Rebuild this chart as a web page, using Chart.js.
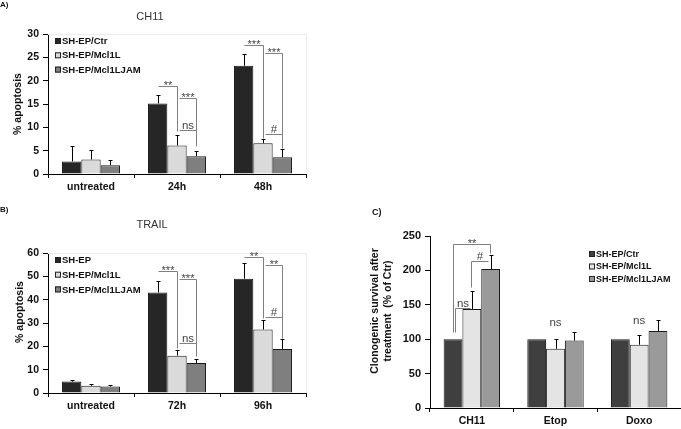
<!DOCTYPE html>
<html>
<head>
<meta charset="utf-8">
<script src="https://cdn.jsdelivr.net/npm/chart.js@4.4.1/dist/chart.umd.min.js"></script>
<style>
  body { margin: 0; background: #fff; }
  #wrap { position: relative; width: 681px; height: 429px; overflow: hidden; }
  canvas { position: absolute; }
</style>
</head>
<body>
<div id="wrap">
  <canvas id="chartA" width="330" height="200" style="left:0;top:0"></canvas>
  <canvas id="chartB" width="330" height="229" style="left:0;top:200px"></canvas>
  <canvas id="chartC" width="351" height="269" style="left:330px;top:160px"></canvas>
</div>
<script>
// --- datos ---
const labelsA = ['untreated', '24h', '48h'];
const ctrA = [2.7, 15.1, 23.2];
const ctrErrA = [3.2, 1.9, 2.6];
const mclA = [3.1, 6.1, 6.6];
const mclErrA = [2.1, 2.3, 1.0];
const jamA = [1.9, 3.8, 3.6];
const jamErrA = [1.2, 1.2, 1.7];

const labelsB = ['untreated', '72h', '96h'];
const ctrB = [4.9, 43.1, 49.0];
const ctrErrB = [0.5, 4.7, 6.7];
const mclB = [3.1, 16.0, 27.2];
const mclErrB = [0.9, 2.6, 4.0];
const jamB = [2.8, 12.9, 18.9];
const jamErrB = [0.8, 1.7, 4.4];

const labelsC = ['CH11', 'Etop', 'Doxo'];
const ctrC = [100, 100, 100];
const ctrErrC = [0, 0, 0];
const mclC = [144, 86, 92];
const mclErrC = [26, 14, 14];
const jamC = [202, 98, 112];
const jamErrC = [21, 13, 16];

const seriesA = ['SH-EP/Ctr', 'SH-EP/Mcl1L', 'SH-EP/Mcl1LJAM'];
const seriesB = ['SH-EP', 'SH-EP/Mcl1L', 'SH-EP/Mcl1LJAM'];

// brackets: puntos [serie, desplazamiento, valor] por categoría
const bracketsA = [
  { cat: 1, text: '**', pts: [[0, 0, 18.9], [1, 0, 18.9], [1, 0, 9.3]] },
  { cat: 1, text: '***', pts: [[1, 0.1, 16.2], [2, 0, 16.2], [2, 0, 6.1]] },
  { cat: 1, text: 'ns', pts: [[1, 0.1, 9.4], [2, 0, 9.4]] },
  { cat: 2, text: '***', pts: [[0, 0, 27.6], [1, 0, 27.6], [1, 0, 7.8]] },
  { cat: 2, text: '***', pts: [[1, 0.12, 25.9], [2, 0, 25.9], [2, 0, 5.5]] },
  { cat: 2, text: '#', pts: [[1, 0.12, 8.6], [2, 0, 8.6]] }
];
const bracketsB = [
  { cat: 1, text: '***', pts: [[0, 0, 52.2], [1, 0, 52.2], [1, 0, 19.1]] },
  { cat: 1, text: '***', pts: [[1, 0.1, 48.8], [2, 0, 48.8], [2, 0, 16]] },
  { cat: 1, text: 'ns', pts: [[1, 0.1, 21.4], [2, 0, 21.4]] },
  { cat: 2, text: '**', pts: [[0, 0, 58.3], [1, 0, 58.3], [1, 0, 32]] },
  { cat: 2, text: '**', pts: [[1, 0.1, 55], [2, 0, 55], [2, 0, 23.4]] },
  { cat: 2, text: '#', pts: [[1, 0.1, 32.4], [2, 0, 32.4]] }
];
const bracketsC = [
  { cat: 0, text: '**', pts: [[0, 0, 111], [0, 0, 238.5], [2, -0.05, 238.5], [2, -0.05, 226]] },
  { cat: 0, text: 'ns', pts: [[0, 0.13, 111], [0, 0.13, 145], [1, -0.1, 145]] },
  { cat: 0, text: '#', pts: [[1, -0.04, 176.5], [1, -0.04, 213], [2, -0.15, 213]] }
];
const notesC = [
  { cat: 1, value: 124, text: 'ns' },
  { cat: 2, value: 127, text: 'ns' }
];

const FONT = "'Liberation Sans', Arial, Helvetica, sans-serif";
Chart.defaults.font.family = FONT;

/**
 * Overlay: barras de error, brackets de significancia, leyenda y títulos
 */
function overlayPlugin(extra) {
  return {
    id: 'overlay',
    afterDatasetsDraw(chart) {
      const ctx = chart.ctx;
      const y = chart.scales.y;
      const area = chart.chartArea;
      ctx.save();

      // borde tenue del área
      if (extra.frame) {
        ctx.strokeStyle = '#ececec';
        ctx.lineWidth = 1;
        ctx.beginPath();
        ctx.moveTo(area.left, Math.round(area.top) + 0.5);
        ctx.lineTo(Math.round(area.right) + 0.5, Math.round(area.top) + 0.5);
        ctx.lineTo(Math.round(area.right) + 0.5, area.bottom);
        ctx.stroke();
      }

      // barras de error (solo hacia arriba)
      ctx.strokeStyle = '#000';
      ctx.lineWidth = 1;
      chart.data.datasets.forEach((ds, di) => {
        chart.getDatasetMeta(di).data.forEach((bar, i) => {
          const e = ds.errors[i];
          if (!e) return;
          const x = Math.round(bar.x) + 0.5;
          const yt = Math.round(y.getPixelForValue(ds.data[i] + e)) + 0.5;
          ctx.beginPath();
          ctx.moveTo(x, bar.y);
          ctx.lineTo(x, yt);
          ctx.moveTo(x - 2, yt);
          ctx.lineTo(x + 2, yt);
          ctx.stroke();
        });
      });

      // brackets
      const toPx = (cat, p) => {
        const bar = chart.getDatasetMeta(p[0]).data[cat];
        return [Math.round(bar.x + p[1] * bar.width) + 0.5, Math.round(y.getPixelForValue(p[2])) + 0.5];
      };
      (extra.brackets || []).forEach(b => {
        const pts = b.pts.map(p => toPx(b.cat, p));
        ctx.strokeStyle = '#808080';
        ctx.beginPath();
        pts.forEach((p, k) => k ? ctx.lineTo(p[0], p[1]) : ctx.moveTo(p[0], p[1]));
        ctx.stroke();
        // texto centrado en el primer tramo horizontal
        let seg = 0;
        for (let k = 0; k < pts.length - 1; k++) {
          if (pts[k][1] === pts[k + 1][1]) { seg = k; break; }
        }
        const cx = (pts[seg][0] + pts[seg + 1][0]) / 2;
        const ly = pts[seg][1];
        ctx.fillStyle = '#444';
        ctx.textAlign = 'center';
        ctx.textBaseline = 'alphabetic';
        if (b.text.startsWith('*')) {
          ctx.font = `11px ${FONT}`;
          ctx.fillText(b.text, cx, ly + 2.5);
        } else {
          ctx.font = `11.5px ${FONT}`;
          ctx.fillText(b.text, cx, ly - 2);
        }
      });

      (extra.notes || []).forEach(n => {
        const bar = chart.getDatasetMeta(1).data[n.cat];
        ctx.fillStyle = '#444';
        ctx.font = `11.5px ${FONT}`;
        ctx.textAlign = 'center';
        ctx.textBaseline = 'middle';
        ctx.fillText(n.text, bar.x, y.getPixelForValue(n.value));
      });
      ctx.restore();
    },
    afterDraw(chart) {
      const ctx = chart.ctx;
      ctx.save();

      // leyenda dentro del área
      const lg = extra.legend;
      ctx.font = `bold ${lg.size}px ${FONT}`;
      ctx.textBaseline = 'middle';
      ctx.textAlign = 'left';
      chart.data.datasets.forEach((ds, di) => {
        const ry = lg.y + di * lg.gap;
        ctx.fillStyle = ds.backgroundColor;
        ctx.fillRect(lg.x, ry - 3, 6, 6);
        ctx.strokeStyle = '#222';
        ctx.lineWidth = 1;
        ctx.strokeRect(lg.x + 0.5, ry - 2.5, 5, 5);
        ctx.fillStyle = '#111';
        ctx.fillText(ds.label, lg.x + 7, ry + 0.5);
      });

      // título del panel
      if (extra.title) {
        ctx.font = `11px ${FONT}`;
        ctx.fillStyle = '#333';
        ctx.textAlign = 'center';
        ctx.fillText(extra.title.text, extra.title.x, extra.title.y);
      }

      // letra del panel
      ctx.font = `bold ${extra.letter.size}px ${FONT}`;
      ctx.fillStyle = '#111';
      ctx.textAlign = 'left';
      ctx.fillText(extra.letter.text, extra.letter.x, extra.letter.y);

      // título del eje y (rotado)
      const yt = extra.yTitle;
      ctx.font = `bold ${yt.size}px ${FONT}`;
      ctx.fillStyle = '#111';
      ctx.textAlign = 'center';
      ctx.textBaseline = 'middle';
      yt.lines.forEach((line, k) => {
        ctx.save();
        ctx.translate(yt.x + k * yt.gap, yt.y);
        ctx.rotate(-Math.PI / 2);
        ctx.fillText(line, 0, 0);
        ctx.restore();
      });
      ctx.restore();
    }
  };
}

function crearPanel(id, cfg) {
  const colors = cfg.colors;
  return new Chart(document.getElementById(id), {
    type: 'bar',
    data: {
      labels: cfg.labels,
      datasets: cfg.series.map((s, i) => ({
        label: cfg.names[i],
        data: s,
        errors: cfg.errors[i],
        backgroundColor: colors[i],
        borderColor: '#1a1a1a',
        borderWidth: 1,
        categoryPercentage: 0.674,
        barPercentage: 1.0
      }))
    },
    options: {
      responsive: false,
      animation: false,
      devicePixelRatio: 1,
      layout: { padding: cfg.padding },
      plugins: { legend: { display: false }, tooltip: { enabled: false } },
      scales: {
        x: {
          grid: { drawOnChartArea: false, tickLength: 4, color: '#000', offset: true },
          border: { color: '#000' },
          ticks: { font: { weight: 'bold', size: 10.5 }, color: '#111', padding: 3, maxRotation: 0 },
          afterFit: s => { s.height = cfg.xHeight; }
        },
        y: {
          min: 0, max: cfg.max,
          grid: { drawOnChartArea: false, tickLength: 5, color: '#000' },
          border: { color: '#000' },
          ticks: { stepSize: cfg.step, font: { weight: 'bold', size: cfg.tickSize }, color: '#111', padding: 4 },
          afterFit: s => { s.width = cfg.yWidth; }
        }
      }
    },
    plugins: [overlayPlugin(cfg.extra)]
  });
}

crearPanel('chartA', {
  labels: labelsA,
  names: seriesA,
  series: [ctrA, mclA, jamA],
  errors: [ctrErrA, mclErrA, jamErrA],
  colors: ['#262626', '#dadada', '#7f7f7f'],
  max: 30, step: 5, tickSize: 10.5,
  padding: { top: 34, right: 24, left: 0, bottom: 0 },
  xHeight: 26, yWidth: 48,
  extra: {
    frame: true,
    brackets: bracketsA,
    legend: { x: 55, y: 41, gap: 14.3, size: 9.5 },
    title: { text: 'CH11', x: 150, y: 17 },
    letter: { text: 'A)', x: 0, y: 5, size: 8 },
    yTitle: { lines: ['% apoptosis'], x: 18, y: 104, gap: 0, size: 10.5 }
  }
});

crearPanel('chartB', {
  labels: labelsB,
  names: seriesB,
  series: [ctrB, mclB, jamB],
  errors: [ctrErrB, mclErrB, jamErrB],
  colors: ['#262626', '#dadada', '#7f7f7f'],
  max: 60, step: 10, tickSize: 10.5,
  padding: { top: 53, right: 24, left: 0, bottom: 0 },
  xHeight: 36, yWidth: 48,
  extra: {
    frame: true,
    brackets: bracketsB,
    legend: { x: 55, y: 60, gap: 14.7, size: 9.5 },
    title: { text: 'TRAIL', x: 152, y: 25 },
    letter: { text: 'B)', x: 0, y: 10, size: 8 },
    yTitle: { lines: ['% apoptosis'], x: 20, y: 112, gap: 0, size: 10.5 }
  }
});

crearPanel('chartC', {
  labels: labelsC,
  names: seriesA,
  series: [ctrC, mclC, jamC],
  errors: [ctrErrC, mclErrC, jamErrC],
  colors: ['#3f3f3f', '#e4e4e4', '#9a9a9a'],
  max: 250, step: 50, tickSize: 11,
  padding: { top: 76, right: 0, left: 0, bottom: 0 },
  xHeight: 21, yWidth: 100,
  extra: {
    frame: false,
    brackets: bracketsC,
    notes: notesC,
    legend: { x: 259, y: 94, gap: 12.5, size: 9 },
    title: null,
    letter: { text: 'C)', x: 42, y: 53, size: 9 },
    yTitle: { lines: ['Clonogenic survival after', 'treatment  (% of Ctr)'], x: 45, y: 151, gap: 13, size: 10.5 }
  }
});
</script>
</body>
</html>
